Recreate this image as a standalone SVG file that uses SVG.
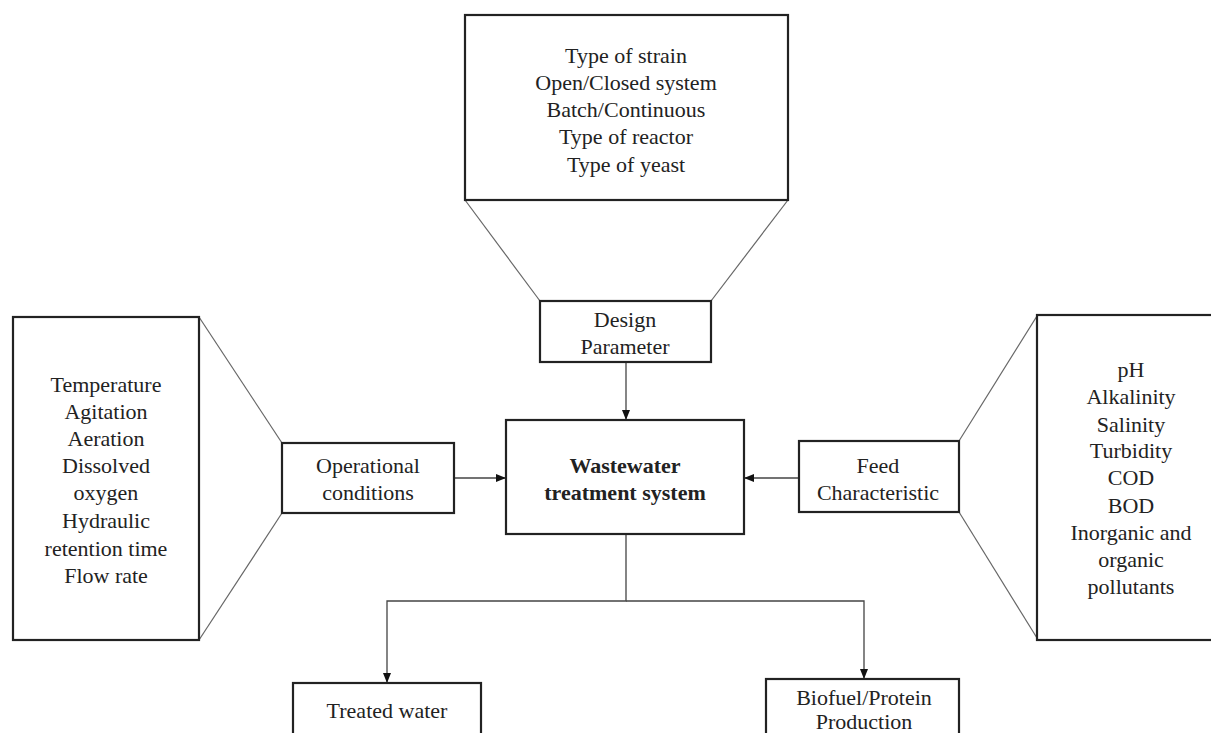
<svg xmlns="http://www.w3.org/2000/svg" width="1211" height="733" viewBox="0 0 1211 733">
<style>
.box{fill:#fff;stroke:#222;stroke-width:2.2}
.fun{stroke:#666;stroke-width:1.2;fill:none}
.con{stroke:#444;stroke-width:1.3;fill:none}
text{font-family:"Liberation Serif","Times New Roman",serif;font-size:22px;fill:#222;text-anchor:middle}
.b{font-weight:bold}
</style>
<defs>
<marker id="ah" markerWidth="10" markerHeight="10" refX="9" refY="5" orient="auto" markerUnits="userSpaceOnUse">
<path d="M0,1 L10,5 L0,9 Z" fill="#111"/>
</marker>
</defs>
<rect width="1211" height="733" fill="#fff"/>
<g id="funnels">
<line class="fun" x1="465" y1="200" x2="540" y2="301"/>
<line class="fun" x1="788" y1="200" x2="711" y2="301"/>
<line class="fun" x1="199" y1="317" x2="282" y2="443"/>
<line class="fun" x1="199" y1="640" x2="282" y2="513"/>
<line class="fun" x1="959" y1="441" x2="1037" y2="316"/>
<line class="fun" x1="959" y1="512" x2="1037" y2="638"/>
</g>
<g id="connectors">
<line class="con" x1="626" y1="362" x2="626" y2="419" marker-end="url(#ah)"/>
<line class="con" x1="455" y1="478" x2="505" y2="478" marker-end="url(#ah)"/>
<line class="con" x1="799" y1="478" x2="745" y2="478" marker-end="url(#ah)"/>
<polyline class="con" points="626,534 626,601 387,601 387,682" marker-end="url(#ah)"/>
<polyline class="con" points="626,601 864,601 864,678" marker-end="url(#ah)"/>
</g>
<g id="design-list">
<rect class="box" x="465" y="15" width="323" height="185"/>
<text x="626" y="63">Type of strain</text>
<text x="626" y="90">Open/Closed system</text>
<text x="626" y="117">Batch/Continuous</text>
<text x="626" y="144">Type of reactor</text>
<text x="626" y="172">Type of yeast</text>
</g>
<g id="design">
<rect class="box" x="540" y="301" width="171" height="61"/>
<text x="625" y="327">Design</text>
<text x="625" y="354">Parameter</text>
</g>
<g id="operational-list">
<rect class="box" x="13" y="317" width="186" height="323"/>
<text x="106" y="392">Temperature</text>
<text x="106" y="419">Agitation</text>
<text x="106" y="446">Aeration</text>
<text x="106" y="473">Dissolved</text>
<text x="106" y="500">oxygen</text>
<text x="106" y="528">Hydraulic</text>
<text x="106" y="556">retention time</text>
<text x="106" y="583">Flow rate</text>
</g>
<g id="operational">
<rect class="box" x="282" y="443" width="172" height="70"/>
<text x="368" y="473">Operational</text>
<text x="368" y="500">conditions</text>
</g>
<g id="wastewater">
<rect class="box" x="506" y="420" width="238" height="114"/>
<text class="b" x="625" y="473">Wastewater</text>
<text class="b" x="625" y="500">treatment system</text>
</g>
<g id="feed">
<rect class="box" x="799" y="441" width="160" height="71"/>
<text x="878" y="473">Feed</text>
<text x="878" y="500">Characteristic</text>
</g>
<g id="feed-list">
<rect class="box" x="1037" y="315" width="200" height="325"/>
<text x="1131" y="377">pH</text>
<text x="1131" y="404">Alkalinity</text>
<text x="1131" y="432">Salinity</text>
<text x="1131" y="458">Turbidity</text>
<text x="1131" y="485">COD</text>
<text x="1131" y="513">BOD</text>
<text x="1131" y="540">Inorganic and</text>
<text x="1131" y="567">organic</text>
<text x="1131" y="594">pollutants</text>
</g>
<g id="treated-water">
<rect class="box" x="293" y="683" width="188" height="70"/>
<text x="387" y="718">Treated water</text>
</g>
<g id="biofuel">
<rect class="box" x="766" y="679" width="193" height="74"/>
<text x="864" y="705">Biofuel/Protein</text>
<text x="864" y="729">Production</text>
</g>
</svg>
